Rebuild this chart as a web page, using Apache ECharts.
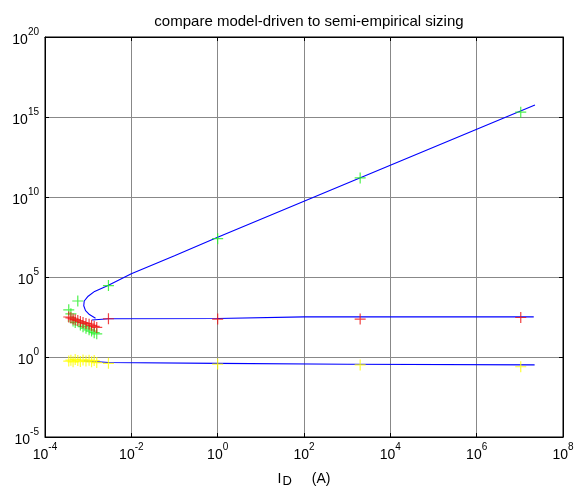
<!DOCTYPE html>
<html lang="en">
<head>
  <meta charset="UTF-8">
  <title>compare model-driven to semi-empirical sizing</title>
  <script src="https://cdn.jsdelivr.net/npm/echarts@6/dist/echarts.min.js"></script>
</head>
<body style="margin:0">

<div id="chart" style="width: 578px; height: 493px;"></div>

<script>
// values
var xTicks = [1e-4, 1e-2, 1, 1e2, 1e4, 1e6, 1e8];
var yTicks = [1e-5, 1, 1e5, 1e10, 1e15, 1e20];

// cluster of small sizes + the four large sizes
var clusterX = [3.55e-4, 3.98e-4, 4.47e-4, 5.01e-4, 5.75e-4, 6.6e-4, 7.6e-4, 8.9e-4, 1.05e-3, 1.2e-3, 1.38e-3, 1.58e-3];
var bigX = [2.95e-3, 1, 2e3, 1.05e7];

var greenCluster = [890, 500, 178, 141, 3160, 100, 79, 63, 50, 42, 33, 28];
var greenBig = [2.9e4, 2.5e7, 1.55e11, 2e15];
var redCluster = [316, 282, 240, 214, 191, 166, 141, 126, 112, 95, 83, 71];
var redBig = [245, 234, 234, 295];
var yellowCluster = [0.56, 0.63, 0.5, 0.71, 0.6, 0.52, 0.66, 0.56, 0.63, 0.5, 0.6, 0.45];
var yellowBig = [0.4, 0.36, 0.32, 0.245];

// model-driven curves (blue)
var upperCurve = [
  [1.48e-3, 263], [1.07e-3, 447], [8.7e-4, 794], [7.9e-4, 1585], [8.1e-4, 3162],
  [1e-3, 6310], [1.41e-3, 1.26e4], [2.8e-3, 2.8e4], [1e-2, 1.6e5], [0.1, 2.1e6],
  [1, 3e7], [1e4, 9.5e11], [2.24e7, 5.6e15]
];
var middleCurve = [[1.23e-3, 204], [3e-3, 245], [1, 257], [100, 320], [2.1e7, 324]];
var lowerCurve = [[7.9e-4, 0.575], [3e-3, 0.457], [1, 0.4], [1e3, 0.35], [2.2e7, 0.32]];

function pairs(xs, ys) {
  return xs.map(function (x, i) { return [x, ys[i]]; });
}

function powLabel(v) {
  var e = Math.round(Math.log10(v));
  return '{b|10}{s|' + e + '}';
}

var labelRich = {
  b: { fontSize: 14, lineHeight: 20, verticalAlign: 'bottom', color: '#000', fontFamily: 'Liberation Sans' },
  s: { fontSize: 10, lineHeight: 8, verticalAlign: 'top', color: '#000', fontFamily: 'Liberation Sans' }
};

var plus = 'path://M0,5L10,5M5,0L5,10';

function markers(data, color) {
  return {
    type: 'scatter',
    data: data,
    symbol: plus,
    symbolSize: 11,
    itemStyle: { color: 'rgba(0,0,0,0)', borderColor: color, borderWidth: 1.2 },
    z: 3
  };
}

function curve(data) {
  return {
    type: 'line',
    data: data,
    showSymbol: false,
    lineStyle: { color: '#0000ff', width: 1.1 },
    z: 2
  };
}

var chart = echarts.init(document.getElementById('chart'));

chart.setOption({
  animation: false,
  backgroundColor: '#fff',
  title: {
    text: 'compare model-driven to semi-empirical sizing',
    left: 304,
    top: 9,
    textAlign: 'center',
    textStyle: { fontSize: 15, fontWeight: 'normal', color: '#000', fontFamily: 'Liberation Sans' }
  },
  grid: {
    left: 45, right: 15, top: 37, bottom: 50,
    show: true, borderColor: '#000', borderWidth: 1
  },
  xAxis: [{
    type: 'log', logBase: 10, min: 1e-4, max: 1e8, interval: 2,
    name: '{i|I}{d|D}{a|(A)}',
    nameLocation: 'middle', nameGap: 35,
    nameTextStyle: {
      rich: {
        i: { fontSize: 14, color: '#000', fontFamily: 'Liberation Sans', verticalAlign: 'top', lineHeight: 16 },
        d: { fontSize: 13, color: '#000', fontFamily: 'Liberation Sans', verticalAlign: 'bottom', lineHeight: 12, padding: [8, 0, 0, 1] },
        a: { fontSize: 14, color: '#000', fontFamily: 'Liberation Sans', verticalAlign: 'top', lineHeight: 16, padding: [0, 0, 0, 20] }
      }
    },
    axisLine: { lineStyle: { color: '#000', width: 1 } },
    axisTick: { inside: true, length: 4, lineStyle: { color: '#000' } },
    minorTick: { show: false },
    axisLabel: { formatter: powLabel, rich: labelRich, margin: 5 },
    splitLine: { show: true, lineStyle: { color: '#888888', width: 1 } }
  }, {
    type: 'log', logBase: 10, min: 1e-4, max: 1e8, interval: 2, position: 'top',
    axisLine: { lineStyle: { color: '#000' } },
    axisTick: { inside: true, length: 4, lineStyle: { color: '#000' } },
    axisLabel: { show: false },
    splitLine: { show: false }
  }],
  yAxis: [{
    type: 'log', logBase: 10, min: 1e-5, max: 1e20, interval: 5,
    axisLine: { lineStyle: { color: '#000', width: 1 } },
    axisTick: { inside: true, length: 4, lineStyle: { color: '#000' } },
    axisLabel: { formatter: powLabel, rich: labelRich, margin: 6 },
    splitLine: { show: true, lineStyle: { color: '#888888', width: 1 } }
  }, {
    type: 'log', logBase: 10, min: 1e-5, max: 1e20, interval: 5, position: 'right',
    axisLine: { lineStyle: { color: '#000' } },
    axisTick: { inside: true, length: 4, lineStyle: { color: '#000' } },
    axisLabel: { show: false },
    splitLine: { show: false }
  }],
  series: [
    curve(upperCurve),
    curve(middleCurve),
    curve(lowerCurve),
    markers(pairs(clusterX, greenCluster).concat(pairs(bigX, greenBig)), '#22ee22'),
    markers(pairs(clusterX, redCluster).concat(pairs(bigX, redBig)), '#ee1111'),
    markers(pairs(clusterX, yellowCluster).concat(pairs(bigX, yellowBig)), '#ffff00')
  ]
});
</script>

</body>
</html>
